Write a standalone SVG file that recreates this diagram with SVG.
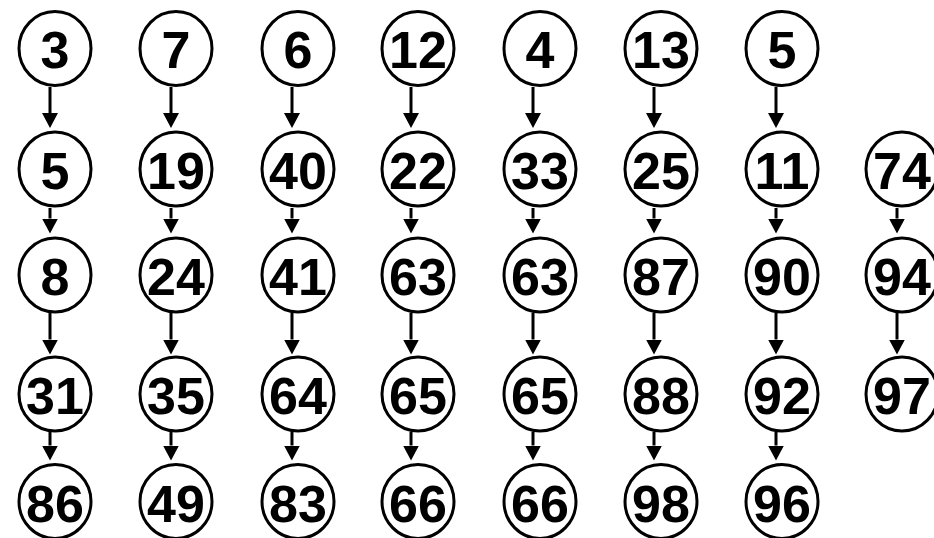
<svg xmlns="http://www.w3.org/2000/svg" width="934" height="538" viewBox="0 0 934 538">
<style>
.n ellipse{fill:#fff;stroke:#000;stroke-width:3}
.n text{font-family:"Liberation Sans",Arial,sans-serif;font-weight:bold;font-size:52px;text-anchor:middle;fill:#000}
.c line{stroke:#000;stroke-width:3}
</style>
<defs>
<marker id="ah" markerUnits="userSpaceOnUse" markerWidth="16" markerHeight="16" refX="0" refY="8" orient="auto" viewBox="0 0 16 16">
<path d="M0,0 L15,8 L0,16 z" fill="#000"/>
</marker>
</defs>
<rect width="934" height="538" fill="#fff"/>
<g id="connectors" class="c">
<line x1="50" y1="87" x2="50" y2="113" marker-end="url(#ah)"/>
<line x1="50" y1="208" x2="50" y2="218.5" marker-end="url(#ah)"/>
<line x1="50" y1="313" x2="50" y2="339.5" marker-end="url(#ah)"/>
<line x1="50" y1="432" x2="50" y2="445.5" marker-end="url(#ah)"/>
<line x1="171" y1="87" x2="171" y2="113" marker-end="url(#ah)"/>
<line x1="171" y1="208" x2="171" y2="218.5" marker-end="url(#ah)"/>
<line x1="171" y1="313" x2="171" y2="339.5" marker-end="url(#ah)"/>
<line x1="171" y1="432" x2="171" y2="445.5" marker-end="url(#ah)"/>
<line x1="292" y1="87" x2="292" y2="113" marker-end="url(#ah)"/>
<line x1="292" y1="208" x2="292" y2="218.5" marker-end="url(#ah)"/>
<line x1="292" y1="313" x2="292" y2="339.5" marker-end="url(#ah)"/>
<line x1="292" y1="432" x2="292" y2="445.5" marker-end="url(#ah)"/>
<line x1="411" y1="87" x2="411" y2="113" marker-end="url(#ah)"/>
<line x1="411" y1="208" x2="411" y2="218.5" marker-end="url(#ah)"/>
<line x1="411" y1="313" x2="411" y2="339.5" marker-end="url(#ah)"/>
<line x1="411" y1="432" x2="411" y2="445.5" marker-end="url(#ah)"/>
<line x1="533" y1="87" x2="533" y2="113" marker-end="url(#ah)"/>
<line x1="533" y1="208" x2="533" y2="218.5" marker-end="url(#ah)"/>
<line x1="533" y1="313" x2="533" y2="339.5" marker-end="url(#ah)"/>
<line x1="533" y1="432" x2="533" y2="445.5" marker-end="url(#ah)"/>
<line x1="654" y1="87" x2="654" y2="113" marker-end="url(#ah)"/>
<line x1="654" y1="208" x2="654" y2="218.5" marker-end="url(#ah)"/>
<line x1="654" y1="313" x2="654" y2="339.5" marker-end="url(#ah)"/>
<line x1="654" y1="432" x2="654" y2="445.5" marker-end="url(#ah)"/>
<line x1="776" y1="87" x2="776" y2="113" marker-end="url(#ah)"/>
<line x1="776" y1="208" x2="776" y2="218.5" marker-end="url(#ah)"/>
<line x1="776" y1="313" x2="776" y2="339.5" marker-end="url(#ah)"/>
<line x1="776" y1="432" x2="776" y2="445.5" marker-end="url(#ah)"/>
<line x1="897" y1="208" x2="897" y2="218.5" marker-end="url(#ah)"/>
<line x1="897" y1="313" x2="897" y2="339.5" marker-end="url(#ah)"/>
</g>
<g id="n1_1" class="n"><ellipse cx="55" cy="48.5" rx="36" ry="37"/><text x="55" y="68">3</text></g>
<g id="n1_2" class="n"><ellipse cx="55" cy="169" rx="36" ry="37"/><text x="55" y="189">5</text></g>
<g id="n1_3" class="n"><ellipse cx="55" cy="275" rx="36" ry="37"/><text x="55" y="295">8</text></g>
<g id="n1_4" class="n"><ellipse cx="55" cy="394" rx="36" ry="37"/><text x="55" y="414">31</text></g>
<g id="n1_5" class="n"><ellipse cx="55" cy="501.5" rx="36" ry="37"/><text x="55" y="522">86</text></g>
<g id="n2_1" class="n"><ellipse cx="176" cy="48.5" rx="36" ry="37"/><text x="176" y="68">7</text></g>
<g id="n2_2" class="n"><ellipse cx="176" cy="169" rx="36" ry="37"/><text x="176" y="189">19</text></g>
<g id="n2_3" class="n"><ellipse cx="176" cy="275" rx="36" ry="37"/><text x="176" y="295">24</text></g>
<g id="n2_4" class="n"><ellipse cx="176" cy="394" rx="36" ry="37"/><text x="176" y="414">35</text></g>
<g id="n2_5" class="n"><ellipse cx="176" cy="501.5" rx="36" ry="37"/><text x="176" y="522">49</text></g>
<g id="n3_1" class="n"><ellipse cx="298" cy="48.5" rx="36" ry="37"/><text x="298" y="68">6</text></g>
<g id="n3_2" class="n"><ellipse cx="298" cy="169" rx="36" ry="37"/><text x="298" y="189">40</text></g>
<g id="n3_3" class="n"><ellipse cx="298" cy="275" rx="36" ry="37"/><text x="298" y="295">41</text></g>
<g id="n3_4" class="n"><ellipse cx="298" cy="394" rx="36" ry="37"/><text x="298" y="414">64</text></g>
<g id="n3_5" class="n"><ellipse cx="298" cy="501.5" rx="36" ry="37"/><text x="298" y="522">83</text></g>
<g id="n4_1" class="n"><ellipse cx="418" cy="48.5" rx="36" ry="37"/><text x="418" y="68">12</text></g>
<g id="n4_2" class="n"><ellipse cx="418" cy="169" rx="36" ry="37"/><text x="418" y="189">22</text></g>
<g id="n4_3" class="n"><ellipse cx="418" cy="275" rx="36" ry="37"/><text x="418" y="295">63</text></g>
<g id="n4_4" class="n"><ellipse cx="418" cy="394" rx="36" ry="37"/><text x="418" y="414">65</text></g>
<g id="n4_5" class="n"><ellipse cx="418" cy="501.5" rx="36" ry="37"/><text x="418" y="522">66</text></g>
<g id="n5_1" class="n"><ellipse cx="540" cy="48.5" rx="36" ry="37"/><text x="540" y="68">4</text></g>
<g id="n5_2" class="n"><ellipse cx="540" cy="169" rx="36" ry="37"/><text x="540" y="189">33</text></g>
<g id="n5_3" class="n"><ellipse cx="540" cy="275" rx="36" ry="37"/><text x="540" y="295">63</text></g>
<g id="n5_4" class="n"><ellipse cx="540" cy="394" rx="36" ry="37"/><text x="540" y="414">65</text></g>
<g id="n5_5" class="n"><ellipse cx="540" cy="501.5" rx="36" ry="37"/><text x="540" y="522">66</text></g>
<g id="n6_1" class="n"><ellipse cx="661" cy="48.5" rx="36" ry="37"/><text x="661" y="68">13</text></g>
<g id="n6_2" class="n"><ellipse cx="661" cy="169" rx="36" ry="37"/><text x="661" y="189">25</text></g>
<g id="n6_3" class="n"><ellipse cx="661" cy="275" rx="36" ry="37"/><text x="661" y="295">87</text></g>
<g id="n6_4" class="n"><ellipse cx="661" cy="394" rx="36" ry="37"/><text x="661" y="414">88</text></g>
<g id="n6_5" class="n"><ellipse cx="661" cy="501.5" rx="36" ry="37"/><text x="661" y="522">98</text></g>
<g id="n7_1" class="n"><ellipse cx="782" cy="48.5" rx="36" ry="37"/><text x="782" y="68">5</text></g>
<g id="n7_2" class="n"><ellipse cx="782" cy="169" rx="36" ry="37"/><text x="782" y="189">11</text></g>
<g id="n7_3" class="n"><ellipse cx="782" cy="275" rx="36" ry="37"/><text x="782" y="295">90</text></g>
<g id="n7_4" class="n"><ellipse cx="782" cy="394" rx="36" ry="37"/><text x="782" y="414">92</text></g>
<g id="n7_5" class="n"><ellipse cx="782" cy="501.5" rx="36" ry="37"/><text x="782" y="522">96</text></g>
<g id="n8_2" class="n"><ellipse cx="902" cy="169" rx="36" ry="37"/><text x="902" y="189">74</text></g>
<g id="n8_3" class="n"><ellipse cx="902" cy="275" rx="36" ry="37"/><text x="902" y="295">94</text></g>
<g id="n8_4" class="n"><ellipse cx="902" cy="394" rx="36" ry="37"/><text x="902" y="414">97</text></g>
</svg>
